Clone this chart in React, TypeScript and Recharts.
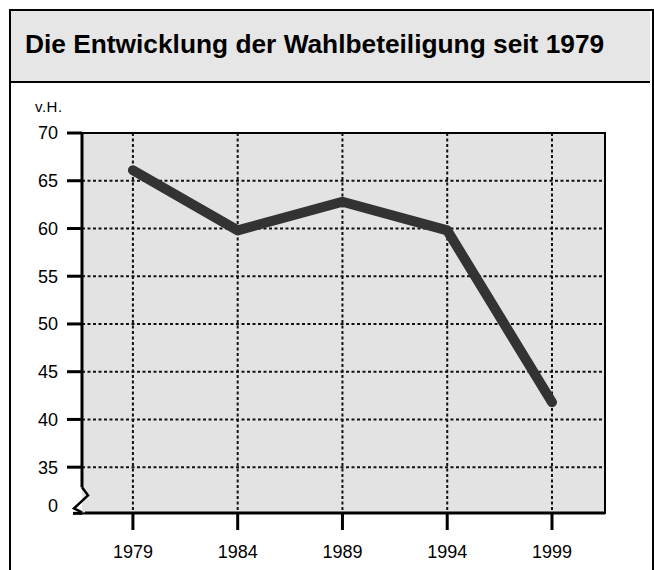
import React from 'react'
import {
  LineChart,
  Line,
  XAxis,
  YAxis,
  CartesianGrid,
  ReferenceLine,
  ReferenceArea,
} from 'recharts'

// Wahlbeteiligung (v.H.) je Europawahl
const years = [1979, 1984, 1989, 1994, 1999]
const turnout = [66.1, 59.8, 62.8, 59.8, 41.8]

// 31 steht für die "0" unterhalb des Achsenbruchs
const BREAK_TICK = 31
const yTicks = [BREAK_TICK, 35, 40, 45, 50, 55, 60, 65, 70]
const gridValues = [35, 40, 45, 50, 55, 60, 65]
const xDomain = [1976.57, 2001.53]
const yDomain = [30.2, 70]

const data = years.map((year, i) => ({ year, turnout: turnout[i] }))

const FONT = '"Liberation Sans", Arial, Helvetica, sans-serif'
const PLOT_BG = '#e3e3e3'
const TICK_SIZE = 15
const TICK_MARGIN = 9

function YTick(props: any) {
  const { x, y, payload } = props
  const axisX = x + TICK_MARGIN + TICK_SIZE
  const label = payload.value === BREAK_TICK ? '0' : String(payload.value)

  if (payload.value === BREAK_TICK) {
    const top = y - 18
    const bottom = y + 8
    return (
      <g>
        <text x={x} y={y} dy="0.355em" textAnchor="end" fontSize={18} fill="#000" fontFamily={FONT}>
          {label}
        </text>
        <rect x={axisX - 3} y={top} width={3} height={bottom - top - 1} fill="#fff" />
        <rect x={axisX} y={top} width={3} height={bottom - top - 1} fill={PLOT_BG} />
        <polyline
          points={`${axisX},${top} ${axisX + 6},${y - 10} ${axisX - 8},${y + 3} ${axisX},${bottom - 1}`}
          fill="none"
          stroke="#000"
          strokeWidth={2.5}
          strokeLinejoin="miter"
        />
        <line x1={axisX - 9} x2={axisX} y1={bottom} y2={bottom} stroke="#000" strokeWidth={3} />
      </g>
    )
  }

  return (
    <g>
      <line x1={axisX - TICK_SIZE} x2={axisX} y1={y} y2={y} stroke="#000" strokeWidth={3} />
      <text x={x} y={y} dy="0.355em" textAnchor="end" fontSize={18} fill="#000" fontFamily={FONT}>
        {label}
      </text>
    </g>
  )
}

export default function App() {
  return (
    <div
      style={{
        position: 'absolute',
        left: 0,
        top: 0,
        width: 654,
        height: 570,
        background: '#fff',
        overflow: 'hidden',
        fontFamily: FONT,
      }}
    >
      {/* Rahmen */}
      <div
        style={{
          position: 'absolute',
          left: 9,
          top: 9,
          width: 641,
          height: 600,
          borderLeft: '2px solid #000',
          borderRight: '2px solid #000',
          borderTop: '2px solid #000',
        }}
      />
      {/* Titelkasten */}
      <div
        style={{
          position: 'absolute',
          left: 11,
          top: 11,
          width: 639,
          height: 70,
          background: '#e6e6e6',
          borderBottom: '2px solid #000',
          display: 'flex',
          alignItems: 'center',
        }}
      >
        <span
          style={{
            marginLeft: 14,
            marginBottom: 4,
            fontSize: 26.3,
            fontWeight: 'bold',
            color: '#000',
            whiteSpace: 'nowrap',
          }}
        >
          Die Entwicklung der Wahlbeteiligung seit 1979
        </span>
      </div>
      <div style={{ position: 'absolute', left: 35, top: 98, fontSize: 15, color: '#000', letterSpacing: 0.5 }}>
        v.H.
      </div>

      <div style={{ position: 'absolute', left: 0, top: 0 }}>
        <LineChart width={654} height={570} data={data} margin={{ top: 133, right: 49, bottom: 0, left: 0 }}>
          <CartesianGrid
            horizontal={false}
            fill={PLOT_BG}
            fillOpacity={1}
            stroke="#111"
            strokeWidth={2}
            strokeDasharray="3 2.5"
          />
          {gridValues.map((v) => (
            <ReferenceLine key={v} y={v} stroke="#111" strokeWidth={2} strokeDasharray="3 2.5" />
          ))}
          <ReferenceArea
            x1={xDomain[0]}
            x2={xDomain[1]}
            y1={yDomain[0]}
            y2={yDomain[1]}
            fill="none"
            stroke="#000"
            strokeWidth={2}
            ifOverflow="visible"
          />
          <XAxis
            dataKey="year"
            type="number"
            domain={xDomain}
            ticks={years}
            allowDataOverflow
            height={57}
            tickSize={17}
            tickMargin={15}
            axisLine={{ stroke: '#000', strokeWidth: 3 }}
            tickLine={{ stroke: '#000', strokeWidth: 3 }}
            tick={{ fontSize: 18, fill: '#000', fontFamily: FONT }}
          />
          <YAxis
            type="number"
            domain={yDomain}
            ticks={yTicks}
            allowDataOverflow
            width={82}
            tickSize={TICK_SIZE}
            tickMargin={TICK_MARGIN}
            axisLine={{ stroke: '#000', strokeWidth: 3 }}
            tickLine={false}
            tick={<YTick />}
            interval={0}
          />
          <Line
            dataKey="turnout"
            stroke="#333"
            strokeWidth={10}
            strokeLinecap="round"
            strokeLinejoin="round"
            dot={false}
            activeDot={false}
            isAnimationActive={false}
          />
        </LineChart>
      </div>
    </div>
  )
}
